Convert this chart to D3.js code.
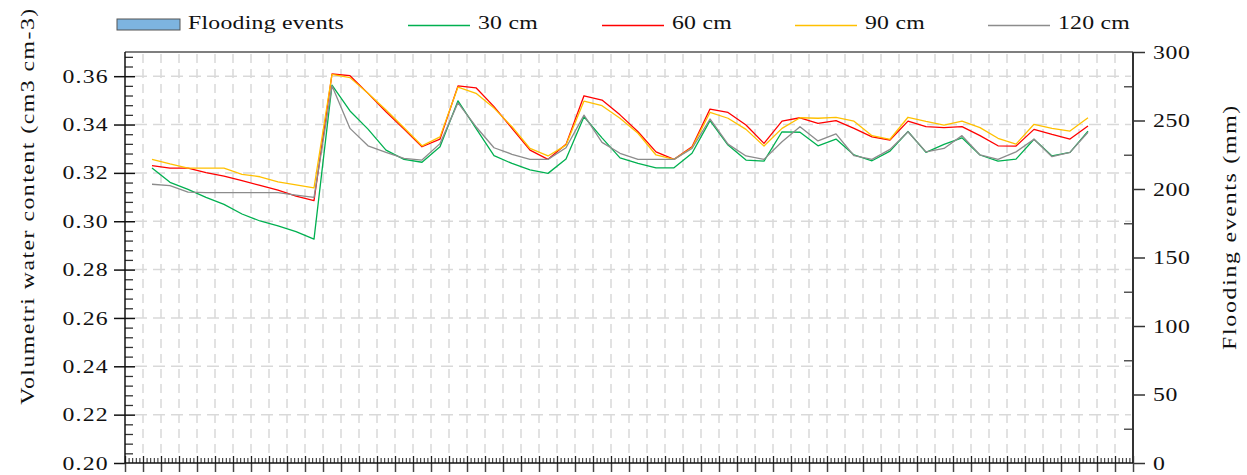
<!DOCTYPE html>
<html>
<head>
<meta charset="utf-8">
<script src="https://cdn.jsdelivr.net/npm/d3@7"></script>
<style>
  body { margin: 0; background: #fff; }
</style>
</head>
<body>
<div id="chart"></div>
<script>
// soil water content at four depths, one reading per day
const depth30 = [0.322, 0.3161, 0.3132, 0.3099, 0.307, 0.303, 0.3001, 0.2981, 0.2957, 0.2926,
  0.3563, 0.3456, 0.3381, 0.3294, 0.3256, 0.3244, 0.3308, 0.3498, 0.3384, 0.3271,
  0.3239, 0.3212, 0.3198, 0.3257, 0.3432, 0.3345, 0.3262, 0.3239, 0.3221, 0.3221,
  0.3281, 0.3416, 0.3315, 0.3253, 0.3249, 0.337, 0.3368, 0.3312, 0.334, 0.3274,
  0.325, 0.329, 0.3371, 0.3285, 0.3318, 0.3345, 0.3274, 0.3249, 0.3257, 0.3339,
  0.327, 0.3285, 0.3373];
const depth60 = [0.323, 0.322, 0.322, 0.3201, 0.3187, 0.3168, 0.3148, 0.3129, 0.3104, 0.3085,
  0.3609, 0.3602, 0.3529, 0.3453, 0.3381, 0.3308, 0.334, 0.356, 0.3552, 0.3474,
  0.3384, 0.3294, 0.3256, 0.3318, 0.3519, 0.3501, 0.344, 0.337, 0.3287, 0.3256,
  0.3308, 0.3464, 0.345, 0.3398, 0.3322, 0.3414, 0.3428, 0.3405, 0.3416, 0.3384,
  0.3349, 0.3336, 0.3414, 0.3391, 0.3387, 0.3391, 0.3354, 0.3312, 0.3311, 0.338,
  0.3359, 0.334, 0.3394];
const depth90 = [0.3256, 0.3237, 0.322, 0.322, 0.322, 0.3194, 0.3184, 0.3163, 0.315, 0.3138,
  0.3607, 0.3594, 0.3529, 0.346, 0.3387, 0.3312, 0.3349, 0.3555, 0.3529, 0.3468,
  0.3391, 0.3301, 0.327, 0.3315, 0.3497, 0.3478, 0.3426, 0.3364, 0.3274, 0.3256,
  0.3304, 0.345, 0.3426, 0.338, 0.3311, 0.3384, 0.3428, 0.3426, 0.343, 0.3414,
  0.3354, 0.3339, 0.343, 0.3413, 0.3398, 0.3414, 0.3387, 0.3343, 0.3319, 0.3401,
  0.3384, 0.3373, 0.3428];
const depth120 = [0.3153, 0.3147, 0.312, 0.3118, 0.3118, 0.3118, 0.3118, 0.3118, 0.3108, 0.3099,
  0.356, 0.3384, 0.3312, 0.3285, 0.326, 0.3253, 0.3321, 0.349, 0.3391, 0.3304,
  0.3277, 0.3256, 0.3256, 0.3304, 0.3439, 0.3326, 0.3281, 0.3256, 0.3256, 0.3256,
  0.3301, 0.3423, 0.3319, 0.327, 0.3256, 0.3329, 0.3391, 0.3332, 0.3361, 0.3271,
  0.3256, 0.3297, 0.337, 0.3287, 0.3301, 0.3354, 0.3274, 0.3256, 0.3287, 0.3339,
  0.3267, 0.3285, 0.3368];

const seriesNames = ["30 cm", "60 cm", "90 cm", "120 cm"];
const seriesColors = ["#00b050", "#ff0000", "#ffc000", "#8c8c8c"];
const seriesValues = [depth30, depth60, depth90, depth120];

const leftTicks = [0.20, 0.22, 0.24, 0.26, 0.28, 0.30, 0.32, 0.34, 0.36];
const rightTicks = [0, 50, 100, 150, 200, 250, 300];

const FONT = "Liberation Serif";
const STRETCH = 1.25; // the source figure's text is drawn wide
const W = 1247, H = 475;
const L = 125, R = 1133, T = 52, B = 463;

const svg = d3.select("#chart").append("svg")
  .attr("width", W).attr("height", H);

const x = d3.scaleLinear().domain([-1.5, 54.5]).range([L, R]);
const y = d3.scaleLinear().domain([0.20, 0.37]).range([B, T]);
const y2 = d3.scaleLinear().domain([0, 300]).range([B, T]);

const xMajor = d3.range(-1.5, 54.51, 1);
const xMinor = d3.range(-1.5, 54.5, 0.2).filter((v, i) => i % 5 !== 0);
const yMinor = d3.range(0.20, 0.3699, 0.004).filter((v, i) => i % 5 !== 0);
const y2Minor = d3.range(25, 300, 50);

function styleText(sel, size, spacing) {
  return sel.attr("font-family", FONT).style("font-size", size + "px")
    .style("letter-spacing", spacing + "px").attr("fill", "#111");
}

// move a text's x into a transform so it can be widened in place
function widen(sel) {
  sel.each(function () {
    const t = d3.select(this);
    const tx = +t.attr("x") || 0;
    const ty = +t.attr("y") || 0;
    t.attr("x", 0).attr("y", 0)
      .attr("transform", `translate(${tx},${ty}) scale(${STRETCH},1)`);
  });
  return sel;
}

// grid
const grid = svg.append("g").attr("stroke", "#d9d9d9").attr("stroke-width", 1.5);
grid.selectAll("line.v").data(xMajor.slice(1, -1)).join("line")
  .attr("x1", (d) => x(d)).attr("x2", (d) => x(d))
  .attr("y1", T + 2).attr("y2", B - 4)
  .attr("stroke-dasharray", "9,6");
grid.selectAll("line.h").data(leftTicks.slice(1)).join("line")
  .attr("x1", L + 10).attr("x2", R - 2)
  .attr("y1", (d) => y(d)).attr("y2", (d) => y(d))
  .attr("stroke-dasharray", "12,6");

// lines
const line = d3.line().x((d, i) => x(i)).y((d) => y(d));
svg.append("g").selectAll("path")
  .data(seriesValues).join("path")
  .attr("d", line)
  .attr("fill", "none")
  .attr("stroke", (d, i) => seriesColors[i])
  .attr("stroke-width", 1.3)
  .attr("stroke-linejoin", "round");

function clean(g) {
  g.select(".domain").remove();
  g.attr("font-family", null);
  return g;
}

// left axis
svg.append("g").attr("transform", `translate(${L},0)`)
  .call(d3.axisLeft(y).tickValues(leftTicks).tickSize(11).tickPadding(5).tickFormat(d3.format(".2f")))
  .call(clean)
  .call((g) => widen(styleText(g.selectAll("text"), 19, 1)))
  .call((g) => g.selectAll("line").attr("stroke", "#111").attr("stroke-width", 1.5));
svg.append("g").attr("transform", `translate(${L},0)`)
  .call(d3.axisRight(y).tickValues(leftTicks.slice(1)).tickSize(10).tickFormat(""))
  .call(clean)
  .call((g) => g.selectAll("line").attr("stroke", "#111").attr("stroke-width", 1.5));
svg.append("g").attr("transform", `translate(${L},0)`)
  .call(d3.axisRight(y).tickValues(yMinor).tickSize(8).tickFormat(""))
  .call(clean)
  .call((g) => g.selectAll("line").attr("stroke", "#333").attr("stroke-width", 1.3));

// right axis
svg.append("g").attr("transform", `translate(${R},0)`)
  .call(d3.axisRight(y2).tickValues(rightTicks).tickSize(12).tickPadding(8))
  .call(clean)
  .call((g) => widen(styleText(g.selectAll("text"), 19, 0.5)))
  .call((g) => g.selectAll("line").attr("stroke", "#333").attr("stroke-width", 1.5));
svg.append("g").attr("transform", `translate(${R},0)`)
  .call(d3.axisLeft(y2).tickValues(y2Minor).tickSize(9).tickFormat(""))
  .call(clean)
  .call((g) => g.selectAll("line").attr("stroke", "#555").attr("stroke-width", 1.5));

// bottom axis
svg.append("g").attr("transform", `translate(0,${B})`)
  .call(d3.axisBottom(x).tickValues(xMajor).tickSize(9).tickFormat(""))
  .call(clean)
  .call((g) => g.selectAll("line").attr("stroke", "#444").attr("stroke-width", 1.5));
svg.append("g").attr("transform", `translate(0,${B})`)
  .call(d3.axisTop(x).tickValues(xMajor).tickSize(7).tickFormat(""))
  .call(clean)
  .call((g) => g.selectAll("line").attr("stroke", "#222").attr("stroke-width", 1.3));
svg.append("g").attr("transform", `translate(0,${B})`)
  .call(d3.axisTop(x).tickValues(xMinor).tickSize(5).tickFormat(""))
  .call(clean)
  .call((g) => g.selectAll("line").attr("stroke", "#222").attr("stroke-width", 1));

// frame lines
svg.append("line").attr("x1", L).attr("x2", R).attr("y1", T).attr("y2", T)
  .attr("stroke", "#555").attr("stroke-width", 1.5);
svg.append("line").attr("x1", L).attr("x2", L).attr("y1", T).attr("y2", B)
  .attr("stroke", "#111").attr("stroke-width", 1.5);
svg.append("line").attr("x1", R).attr("x2", R).attr("y1", T).attr("y2", B)
  .attr("stroke", "#333").attr("stroke-width", 2);
svg.append("line").attr("x1", L).attr("x2", R).attr("y1", B).attr("y2", B)
  .attr("stroke", "#111").attr("stroke-width", 1.5);

// axis titles
svg.append("text")
  .attr("transform", `translate(34,206) rotate(-90) scale(${STRETCH},1)`)
  .attr("text-anchor", "middle")
  .call((s) => styleText(s, 19, 1.2))
  .text("Volumetri water content (cm3 cm-3)");
svg.append("text")
  .attr("transform", `translate(1236,227) rotate(-90) scale(${STRETCH},1)`)
  .attr("text-anchor", "middle")
  .call((s) => styleText(s, 19, 1.4))
  .text("Flooding events (mm)");

// legend
const legend = svg.append("g");
legend.append("rect")
  .attr("x", 117).attr("y", 19).attr("width", 63).attr("height", 11)
  .attr("fill", "#7db4e0").attr("stroke", "#555").attr("stroke-width", 1);
legend.append("text").attr("x", 188).attr("y", 29)
  .call((s) => styleText(s, 19, 0.2))
  .text("Flooding events")
  .call(widen);

const legendX = [408, 602, 795, 988];
const item = legend.selectAll("g.item").data(seriesNames).join("g")
  .attr("transform", (d, i) => `translate(${legendX[i]},0)`);
item.append("line")
  .attr("x1", 0).attr("x2", 62).attr("y1", 25.5).attr("y2", 25.5)
  .attr("stroke", (d, i) => seriesColors[i]).attr("stroke-width", 1.3);
item.append("text").attr("x", 70).attr("y", 29)
  .call((s) => styleText(s, 19, 0.2))
  .text((d) => d)
  .call(widen);
</script>
</body>
</html>
